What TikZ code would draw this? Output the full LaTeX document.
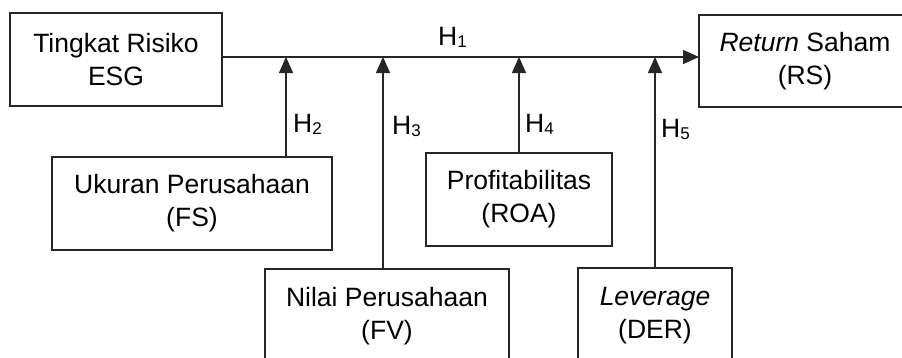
\documentclass[tikz,border=0pt]{standalone}
\usepackage{fontspec}
\setmainfont{Liberation Sans}
\usetikzlibrary{arrows.meta}
\newcommand{\hyp}[1]{H{\fontsize{17}{17}\selectfont\raisebox{-2pt}{#1}}}
\begin{document}
\begin{tikzpicture}[x=1pt,y=-1pt,
  box/.style={draw=black!85,line width=1.3pt,inner sep=0pt,align=center,
    font=\fontsize{26.5}{33}\selectfont},
  arr/.style={draw=black!85,line width=1.3pt,-{Triangle[length=16pt,width=14pt]}},
  hlab/.style={anchor=base west,inner sep=0pt,font=\fontsize{26.5}{33}\selectfont}]
\useasboundingbox (0,0) rectangle (902,357);
\clip (0,0) rectangle (902,357);
\fill[white] (0,0) rectangle (902,357);
\node[box,minimum width=212pt,minimum height=93pt] (esg) at (116,59.5) {Tingkat Risiko\\ESG};
\node[box,minimum width=212pt,minimum height=92pt] (rs) at (805,61) {\textit{Return} Saham\\(RS)};
\node[box,minimum width=280pt,minimum height=93pt] (fs) at (192,203.5) {Ukuran Perusahaan\\(FS)};
\node[box,minimum width=186pt,minimum height=93pt] (roa) at (519,199.5) {Profitabilitas\\(ROA)};
\node[box,minimum width=244pt,minimum height=95pt] (fv) at (387,316.5) {Nilai Perusahaan\\(FV)};
\node[box,minimum width=154pt,minimum height=95pt] (der) at (655,315.5) {\textit{Leverage}\\(DER)};
\coordinate (s) at (222,57);
\coordinate (e) at (699,57);
\coordinate (j2) at (286,57);
\coordinate (j3) at (383,57);
\coordinate (j4) at (519,57);
\coordinate (j5) at (655,57);
\draw[arr] (s) -- (e);
\draw[arr] (j2 |- fs.north) -- (j2);
\draw[arr] (j3 |- fv.north) -- (j3);
\draw[arr] (j4 |- roa.north) -- (j4);
\draw[arr] (j5 |- der.north) -- (j5);
\node[hlab] (h1) at (438,45) {\hyp{1}};
\node[hlab] (h2) at (293,132) {\hyp{2}};
\node[hlab] (h3) at (392,134) {\hyp{3}};
\node[hlab] (h4) at (525,132) {\hyp{4}};
\node[hlab] (h5) at (661,137) {\hyp{5}};
\end{tikzpicture}
\end{document}
